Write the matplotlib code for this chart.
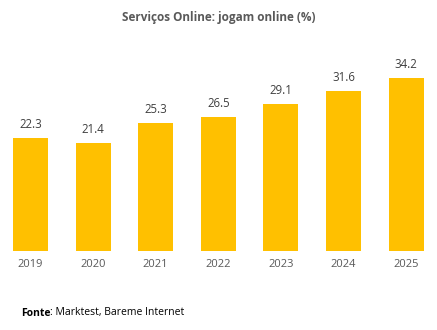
import matplotlib
matplotlib.use("Agg")
import matplotlib.pyplot as plt

years = ["2019", "2020", "2021", "2022", "2023", "2024", "2025"]
values = [22.3, 21.4, 25.3, 26.5, 29.1, 31.6, 34.2]

plt.rcParams['font.family'] = ['Open Sans', 'DejaVu Sans']

fig = plt.figure(figsize=(4.37, 3.30), dpi=100)
ax = fig.add_axes([0, 1 - 251/330, 1, 202/330])
x = list(range(len(years)))
ax.bar(x, values, width=0.56, color="#FFC000")
ax.set_xlim(-0.487, 6.494)
ax.set_ylim(0, 40)
for xi, v in zip(x, values):
    ax.annotate(f"{v:.1f}", (xi, v), xytext=(0, 5), textcoords="offset points",
                ha="center", va="bottom", fontsize=8.3, color="#404040")
ax.set_xticks(x)
ax.set_xticklabels(years, fontsize=8, color="#595959")
ax.tick_params(axis="x", length=0, pad=6)
ax.set_yticks([])
for s in ax.spines.values():
    s.set_visible(False)

fig.text(0.5, 1 - 18/330, "Serviços Online: jogam online (%)", ha="center", va="center",
         fontsize=8.5, fontweight="bold", color="#595959")
t1 = fig.text(21/437, 1 - 313/330, "Fonte", ha="left", va="center", fontsize=7.5,
              fontweight="bold", color="#000000")
fig.canvas.draw()
bb = t1.get_window_extent(renderer=fig.canvas.get_renderer())
fig.text(bb.x1 / fig.bbox.width, 1 - 313/330, ": Marktest, Bareme Internet", ha="left",
         va="center", fontsize=7.5, color="#000000")
fig.savefig("out.png", dpi=100)
